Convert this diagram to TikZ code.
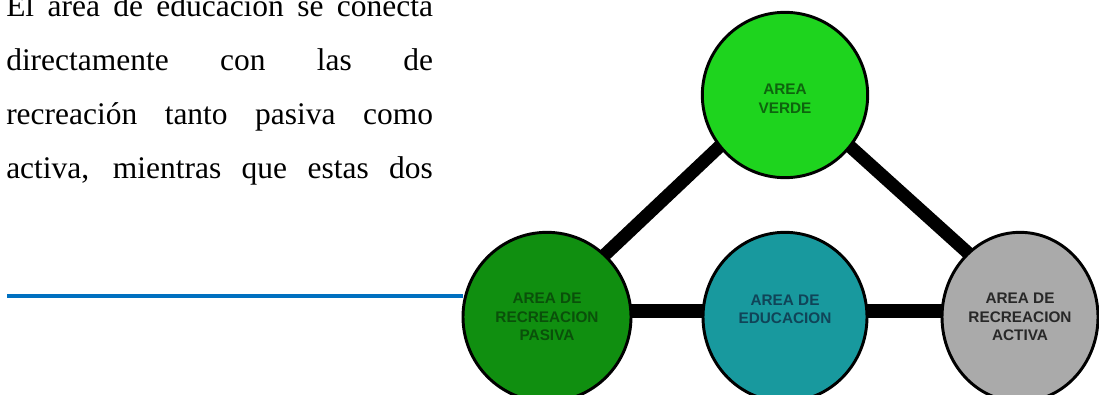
\documentclass[tikz,border=0pt]{standalone}
\usepackage{fontspec}
\setmainfont{Liberation Serif}
\newfontfamily\lblfont{Liberation Sans}
\usetikzlibrary{shapes.geometric,calc,backgrounds}
\definecolor{cverde}{RGB}{30,212,30}
\definecolor{cpasiva}{RGB}{16,143,16}
\definecolor{ceduc}{RGB}{24,153,158}
\definecolor{cactiva}{RGB}{170,170,170}
\definecolor{tverde}{RGB}{14,100,14}
\definecolor{tpasiva}{RGB}{10,80,10}
\definecolor{teduc}{RGB}{16,68,88}
\definecolor{tactiva}{RGB}{40,40,40}
\definecolor{rulecol}{RGB}{0,112,192}
\tikzset{
  area/.style={ellipse, draw=black, line width=2.2pt, inner sep=0pt, align=center,
    font=\lblfont\bfseries\fontsize{11.5}{13.8}\selectfont},
  link/.style={line width=9.8pt, black},
  para/.style={anchor=base west, inner sep=0pt, font=\fontsize{23.6}{28}\selectfont}
}
\begin{document}
\begin{tikzpicture}[x=0.75pt,y=-0.75pt]
\clip (0,0) rectangle (1099,395);
% paragraph
\node[para] (l1) at (6,17) {\makebox[320pt][s]{El área de educación se conecta}};
\node[para] (l2) at (6,71) {\makebox[320pt][s]{directamente con las de}};
\node[para] (l3) at (6,125) {\makebox[320pt][s]{recreación tanto pasiva como}};
\node[para] (l4) at (6,179) {\makebox[320pt][s]{activa, mientras que estas dos}};
% circles
\node[area, fill=cverde, text=tverde, minimum width=124pt, minimum height=124pt,
      text depth=0pt] (verde) at (785,95) {\\[0pt]AREA\\VERDE};
\node[area, fill=cpasiva, text=tpasiva, minimum width=126pt, minimum height=127pt] (pasiva) at (547,317) {AREA DE\\RECREACION\\PASIVA};
\node[area, fill=ceduc, text=teduc, minimum width=123pt, minimum height=127pt] (educ) at (785,317) {AREA DE\\EDUCACION\\[-1.8pt]\mbox{}};
\node[area, fill=cactiva, text=tactiva, minimum width=117pt, minimum height=127pt] (activa) at (1020,317) {AREA DE\\RECREACION\\ACTIVA};
% blue rule
\coordinate (rs) at (7,296);
\coordinate (re) at (463,296);
% connectors behind circles
\begin{scope}[on background layer]
\fill[white] (0,0) rectangle (1099,395);
\draw[rulecol, line width=3pt] (rs) -- (re);
\draw[link] ($(verde.center)+(-11,0)$) -- ($(pasiva.center)+(-8,0)$);
\draw[link] ($(verde.center)+(8,0)$) -- ($(activa.center)+(19,0)$);
\draw[link] ($(pasiva.center)+(0,-6)$) -- ($(educ.center)+(0,-6)$);
\draw[link] ($(educ.center)+(0,-6)$) -- ($(activa.center)+(0,-6)$);
\end{scope}
\end{tikzpicture}
\end{document}
